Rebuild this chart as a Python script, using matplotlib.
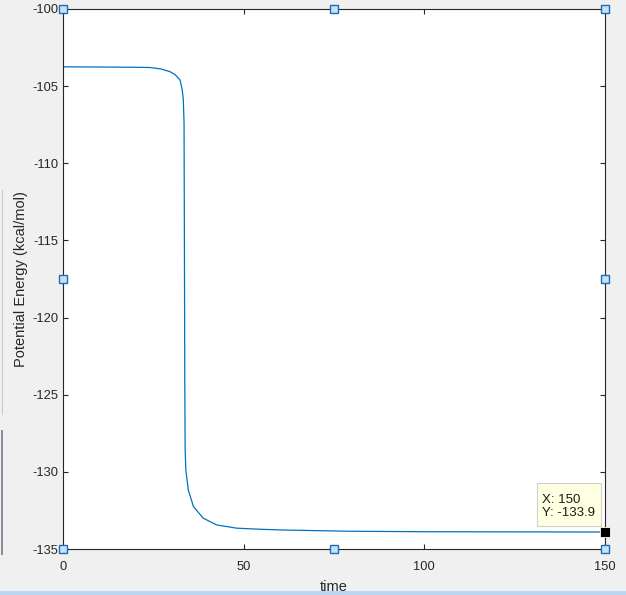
import matplotlib
matplotlib.use("Agg")
import matplotlib.pyplot as plt
from matplotlib.patches import Rectangle

plt.rcParams['font.family'] = ['Liberation Sans', 'DejaVu Sans']
plt.rcParams['axes.unicode_minus'] = False

time = [0, 10, 20, 24, 27, 29.6, 31, 32.4, 33.0, 33.3, 33.5, 33.6, 33.7, 33.8,
        34.0, 34.7, 36.1, 38.8, 42.5, 48.1, 54.5, 61, 79.4, 100, 125, 150]
energy = [-103.75, -103.76, -103.78, -103.79, -103.88, -104.06, -104.25, -104.6,
          -105.25, -105.9, -107.4, -115.0, -124.0, -128.5, -129.9, -131.2, -132.25,
          -133.0, -133.44, -133.65, -133.72, -133.77, -133.85, -133.88, -133.89, -133.9]

xticks = [0, 50, 100, 150]
yticks = [-135, -130, -125, -120, -115, -110, -105, -100]
tip_x, tip_y = 150, -133.9

W, H = 626, 595
fig = plt.figure(figsize=(W / 100, H / 100), dpi=100, facecolor='#f0f0f0')
ax = fig.add_axes([63 / W, 1 - 549 / H, (605 - 63) / W, (549 - 9) / H])
ax.set_facecolor('white')

ax.plot(time, energy, color='#0072BD', lw=0.9)

ax.set_xlim(0, 150)
ax.set_ylim(-135, -100)
ax.set_xticks(xticks)
ax.set_yticks(yticks)
ax.tick_params(direction='in', length=3.5, width=0.8, top=True, right=True,
               labelsize=9.3, colors='#262626')
ax.tick_params(axis='x', pad=8.5)
ax.tick_params(axis='y', pad=3.5)
for s in ax.spines.values():
    s.set_color('#262626')
    s.set_linewidth(0.8)

ax.set_xlabel('time', fontsize=10.5, color='#262626', labelpad=5.5)
ax.set_ylabel('Potential Energy (kcal/mol)', fontsize=10.5, color='#262626', labelpad=3)

# selection handles
hx = [0, 75, 150, 0, 150, 0, 75, 150]
hy = [-100, -100, -100, -117.5, -117.5, -135, -135, -135]
ax.plot(hx, hy, ls='none', marker='s', ms=5.6, mfc='#c6e2f8', mec='#1f6cb3',
        mew=1.0, clip_on=False, zorder=10)

# data tip
ax.plot([tip_x], [tip_y], ls='none', marker='s', ms=6.6, mfc='black', mec='#fffde0',
        mew=0.6, clip_on=False, zorder=11)
px, py = ax.transData.transform((tip_x, tip_y))
inv = fig.transFigure.inverted()
bx0, by0 = inv.transform((px - 68, py + 6))
bx1, by1 = inv.transform((px - 4, py + 49))
fig.patches.append(Rectangle((bx0, by0), bx1 - bx0, by1 - by0, transform=fig.transFigure,
                             fc='#ffffe1', ec='#cfcfcf', lw=0.8, zorder=12))
tx, ty1 = inv.transform((px - 63, py + 29))
_, ty2 = inv.transform((px - 63, py + 16))
fig.text(tx, ty1, f'X: {tip_x}', fontsize=9.5, color='#1a1a1a', va='baseline', zorder=13)
fig.text(tx, ty2, f'Y: {tip_y}', fontsize=9.5, color='#1a1a1a', va='baseline', zorder=13)

# window decoration: bottom blue strip and left panel artifacts
fig.patches.append(Rectangle((0, 0), 1, 4 / H, transform=fig.transFigure,
                             fc='#bcd6ef', ec='none'))
fig.patches.append(Rectangle((1 / W, 1 - 555 / H), 1.5 / W, (555 - 430) / H,
                             transform=fig.transFigure, fc='#8c8c9c', ec='none'))
fig.patches.append(Rectangle((2 / W, 1 - 415 / H), 1 / W, (415 - 190) / H,
                             transform=fig.transFigure, fc='#c8c8c8', ec='none'))

fig.savefig('out.png', dpi=100, facecolor=fig.get_facecolor())
